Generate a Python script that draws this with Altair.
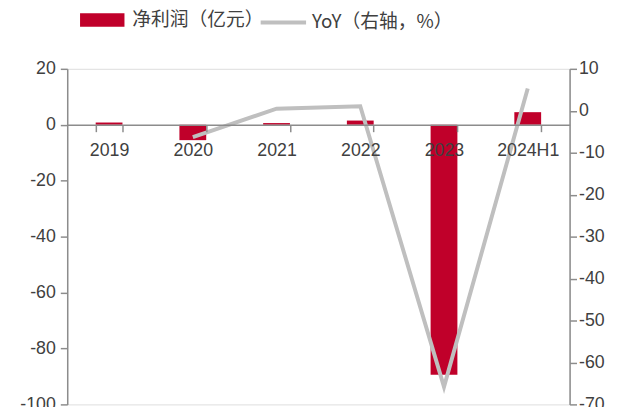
import altair as alt
import pandas as pd

years = ["2019", "2020", "2021", "2022", "2023", "2024H1"]
profit = [0.8, -5.5, 0.6, 1.5, -89.4, 4.5]
yoy = [None, -6.3, 0.5, 1.1, -65.8, 5.3]

df = pd.DataFrame({"year": years, "profit": profit, "yoy": yoy,
                   "s1": ["净利润（亿元）"] * 6, "s2": ["YoY（右轴，%）"] * 6})

RED = "#C0002A"
GRAY = "#BFBFBF"
AX = "#8C8C8C"
TXT = "#404040"
NUM_FONT = "Liberation Sans"
CJK_FONT = "Noto Sans CJK SC"

xaxis = alt.Axis(orient="bottom", offset=-283.33, tickBand="extent",
                 labelAngle=0, labelFont=NUM_FONT, labelFontSize=18,
                 labelColor=TXT, domainColor=AX, tickColor=AX,
                 domainWidth=1.5, tickWidth=1.5, tickSize=7,
                 labelPadding=10, grid=False, zindex=1)
xscale = alt.Scale(paddingInner=0.68, paddingOuter=0.34)

bars = alt.Chart(df).mark_bar(color=RED).encode(
    x=alt.X("year:N", sort=years, title=None, scale=xscale, axis=xaxis),
    y=alt.Y("profit:Q", title=None,
            scale=alt.Scale(domain=[-100, 20], nice=False, zero=False),
            axis=alt.Axis(orient="left", values=list(range(-100, 21, 20)),
                          labelExpr="'' + datum.value",
                          labelFont=NUM_FONT, labelFontSize=18, labelColor=TXT,
                          domainColor=AX, tickColor=AX, domainWidth=1.5,
                          tickWidth=1.5, tickSize=7, labelPadding=5, grid=False,
                          zindex=1)),
    color=alt.Color("s1:N", scale=alt.Scale(range=[RED]),
                    legend=alt.Legend(title=None, orient="none", legendX=13, legendY=-72,
                                      symbolType="M-1,-0.3H1V0.3H-1Z", symbolSize=2025,
                                      symbolStrokeWidth=0, symbolOpacity=1,
                                      labelFont=CJK_FONT, labelFontSize=19,
                                      labelColor=TXT, labelOffset=8, labelLimit=300)),
)

line = alt.Chart(df).transform_filter("isValid(datum.yoy)").mark_line(
    strokeWidth=4, strokeJoin="miter").encode(
    x=alt.X("year:N", sort=years, title=None, scale=xscale, axis=xaxis),
    y=alt.Y("yoy:Q", title=None,
            scale=alt.Scale(domain=[-70, 10], nice=False, zero=False),
            axis=alt.Axis(orient="right", values=list(range(-70, 11, 10)),
                          labelExpr="'' + datum.value",
                          labelFont=NUM_FONT, labelFontSize=18, labelColor=TXT,
                          domainColor=AX, tickColor=AX, domainWidth=1.5,
                          tickWidth=1.5, tickSize=7, labelPadding=2, grid=False)),
    stroke=alt.Stroke("s2:N", scale=alt.Scale(range=[GRAY]),
                      legend=alt.Legend(title=None, orient="none", legendX=194, legendY=-72,
                                        symbolType="stroke", symbolSize=2116,
                                        symbolStrokeWidth=4,
                                        labelFont=CJK_FONT, labelFontSize=19,
                                        labelColor=TXT, labelOffset=4, labelLimit=300)),
)

chart = alt.layer(bars, line).resolve_scale(y="independent", color="independent").properties(
    width=509, height=340,
    autosize=alt.AutoSizeParams(type="none"),
    padding={"left": 60, "top": 59, "right": 46, "bottom": 0},
).configure_view(stroke=None).configure(background="white")

chart.save("out.html", embed_options={"renderer": "svg", "actions": False})
